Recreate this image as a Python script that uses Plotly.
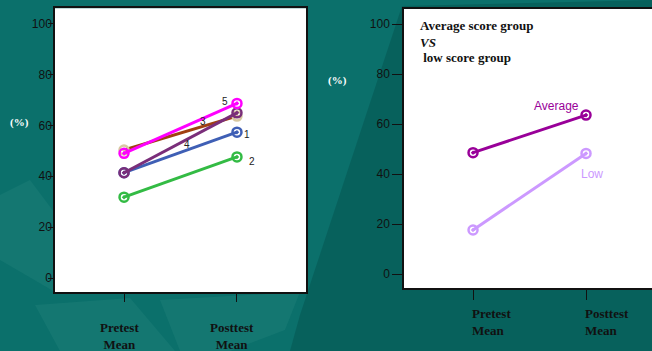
import plotly.graph_objects as go

# ---------------- data ----------------
categories = ["Pretest<br>Mean", "Posttest<br>Mean"]
x_pos = [0, 1]

left_names = ["1", "2", "3", "4", "5"]
left_values = {
    "1": [41.4, 57.3],
    "2": [31.8, 47.6],
    "3": [50.3, 63.6],
    "4": [41.4, 64.9],
    "5": [49.0, 68.6],
}
left_colors = {
    "1": "#3f5fb5",
    "2": "#33bb44",
    "3": "#a04010",
    "4": "#7a2e7a",
    "5": "#ff00ff",
}
left_marker_colors = {
    "1": "#3f5fb5",
    "2": "#33bb44",
    "3": "#d8c8a0",
    "4": "#7a2e7a",
    "5": "#ff00ff",
}
# label positions (x, y) in data units
left_label_pos = {
    "1": (1.09, 56.2),
    "2": (1.13, 45.6),
    "3": (0.70, 61.3),
    "4": (0.56, 52.3),
    "5": (0.89, 69.5),
}
draw_order = ["2", "1", "3", "4", "5"]

right_names = ["Average", "Low"]
right_values = {
    "Average": [48.6, 63.6],
    "Low": [17.7, 48.3],
}
right_colors = {"Average": "#990099", "Low": "#cc99ff"}
right_label_pos = {"Average": (0.74, 67.2), "Low": (1.05, 40.1)}

y_ticks = [0, 20, 40, 60, 80, 100]

W, H = 652, 351
BG = "#0b706b"

# panel boxes in pixels (left, top, right, bottom)
L_BOX = (55, 8.3, 306, 292)
R_BOX = (404, 9, 652, 288.3)

fig = go.Figure()

for name in draw_order:
    fig.add_trace(go.Scatter(
        x=x_pos, y=left_values[name], mode="lines+markers",
        line=dict(color=left_colors[name], width=3),
        marker=dict(symbol="circle-open-dot", size=9,
                    color=left_marker_colors[name],
                    line=dict(width=2.5, color=left_marker_colors[name])),
        xaxis="x", yaxis="y", showlegend=False, hoverinfo="skip"))

for name in right_names:
    fig.add_trace(go.Scatter(
        x=x_pos, y=right_values[name], mode="lines+markers",
        line=dict(color=right_colors[name], width=3),
        marker=dict(symbol="circle-open-dot", size=9, color=right_colors[name],
                    line=dict(width=2.5, color=right_colors[name])),
        xaxis="x2", yaxis="y2", showlegend=False, hoverinfo="skip"))

axis_font = dict(family="Liberation Sans, Arial", size=12, color="#111111")

fig.update_layout(
    width=W, height=H,
    margin=dict(l=0, r=0, t=0, b=0),
    paper_bgcolor=BG, plot_bgcolor="rgba(0,0,0,0)",
    xaxis=dict(domain=[L_BOX[0] / W, L_BOX[2] / W], range=[-0.611, 1.611],
               tickvals=x_pos, ticktext=["", ""], ticks="outside", ticklen=8,
               tickcolor="#111", tickwidth=1.2,
               showline=True, linecolor="#111", linewidth=1.5, mirror=True,
               showgrid=False, zeroline=False, fixedrange=True),
    yaxis=dict(domain=[1 - L_BOX[3] / H, 1 - L_BOX[1] / H], range=[-5.4, 105.9],
               tickvals=y_ticks, ticks="outside", ticklen=5, tickcolor="#111",
               ticklabelstandoff=-6, tickfont=axis_font,
               showline=True, linecolor="#111", linewidth=1.5, mirror=True,
               showgrid=False, zeroline=False, fixedrange=True),
    xaxis2=dict(domain=[R_BOX[0] / W, 1.0], range=[-0.611, 1.584], anchor="y2",
                tickvals=x_pos, ticktext=["", ""], ticks="outside", ticklen=10,
                tickcolor="#111", tickwidth=1.2,
                showline=True, linecolor="#111", linewidth=1.5, mirror=True,
                showgrid=False, zeroline=False, fixedrange=True),
    yaxis2=dict(domain=[1 - R_BOX[3] / H, 1 - R_BOX[1] / H], range=[-5.6, 106],
                anchor="x2",
                tickvals=y_ticks, ticks="outside", ticklen=10, tickcolor="#111",
                tickfont=axis_font,
                showline=True, linecolor="#111", linewidth=1.5, mirror=False,
                showgrid=False, zeroline=False, fixedrange=True),
)

ann = []
serif_bold = dict(family="Liberation Serif, Times New Roman", size=13, color="#111111")

# category labels under each panel
for i, cat in enumerate(categories):
    ann.append(dict(x=x_pos[i], y=1 - 318 / H, xref="x", yref="paper",
                    yanchor="top", xanchor="center", xshift=-5,
                    text="<b>" + cat + "</b>", showarrow=False, align="center",
                    font=serif_bold))
    ann.append(dict(x=x_pos[i], y=1 - 304 / H, xref="x2", yref="paper",
                    yanchor="top", xanchor="left", xshift=-3,
                    text="<b>" + cat + "</b>", showarrow=False, align="left",
                    font=serif_bold))

# (%) axis titles
ann.append(dict(x=19 / W, y=1 - 123 / H, xref="paper", yref="paper",
                xanchor="center", yanchor="middle",
                text="<b>(%)</b>", showarrow=False,
                font=dict(family="Liberation Serif", size=11, color="white")))
ann.append(dict(x=337 / W, y=1 - 80 / H, xref="paper", yref="paper",
                xanchor="center", yanchor="middle",
                text="<b>(%)</b>", showarrow=False,
                font=dict(family="Liberation Serif", size=11, color="white")))

# series labels left
for name in left_names:
    lx, ly = left_label_pos[name]
    ann.append(dict(x=lx, y=ly, xref="x", yref="y", text=name, showarrow=False,
                    xanchor="center", yanchor="middle",
                    font=dict(family="Liberation Sans, Arial", size=10, color="#222")))

# series labels right
for name in right_names:
    lx, ly = right_label_pos[name]
    ann.append(dict(x=lx, y=ly, xref="x2", yref="y2", text=name, showarrow=False,
                    xanchor="center", yanchor="middle",
                    font=dict(family="Liberation Sans, Arial", size=12,
                              color=right_colors[name])))

# title block inside right panel
title_lines = ["<b>Average score group</b>", "<b><i>VS</i></b>", "<b> low score group</b>"]
title_y = [25, 42, 58]
for t, ty in zip(title_lines, title_y):
    ann.append(dict(x=418 / W, y=1 - ty / H, xref="paper", yref="paper",
                    xanchor="left", yanchor="middle", text=t, showarrow=False,
                    font=serif_bold))

fig.update_layout(annotations=ann)


def px_path(path):
    out = []
    for p in path.split():
        if "," in p:
            a, b = p.split(",")
            out.append(f"{float(a) / W:.4f},{1 - float(b) / H:.4f}")
        else:
            out.append(p)
    return " ".join(out)


# subtle background texture shapes (pixel paths), then white panel backgrounds
light = "rgba(140,210,200,0.07)"
dark = "rgba(0,70,66,0.35)"
shapes = [
    ("M 300,315 L 402,6 L 652,0 L 652,351 L 290,351 Z", dark),
    ("M 0,195 L 30,180 L 75,240 L 55,292 L 0,260 Z", light),
    ("M 35,305 L 130,298 L 175,351 L 60,351 Z", light),
    ("M 160,300 L 300,292 L 285,330 L 230,351 L 180,351 Z", light),
]
shp = []
for path, col in shapes:
    shp.append(dict(type="path", path=px_path(path), xref="paper", yref="paper",
                    fillcolor=col, line=dict(width=0), layer="below"))
for (x0, y0, x1, y1) in (L_BOX, R_BOX):
    shp.append(dict(type="rect", x0=x0 / W, x1=x1 / W, y0=1 - y1 / H, y1=1 - y0 / H,
                    xref="paper", yref="paper", fillcolor="white",
                    line=dict(width=0), layer="below"))
fig.update_layout(shapes=shp)

fig.write_html("out.html",
               config={"displayModeBar": False},
               post_script="document.body.style.margin='0';"
                           "document.body.style.overflow='hidden';")
